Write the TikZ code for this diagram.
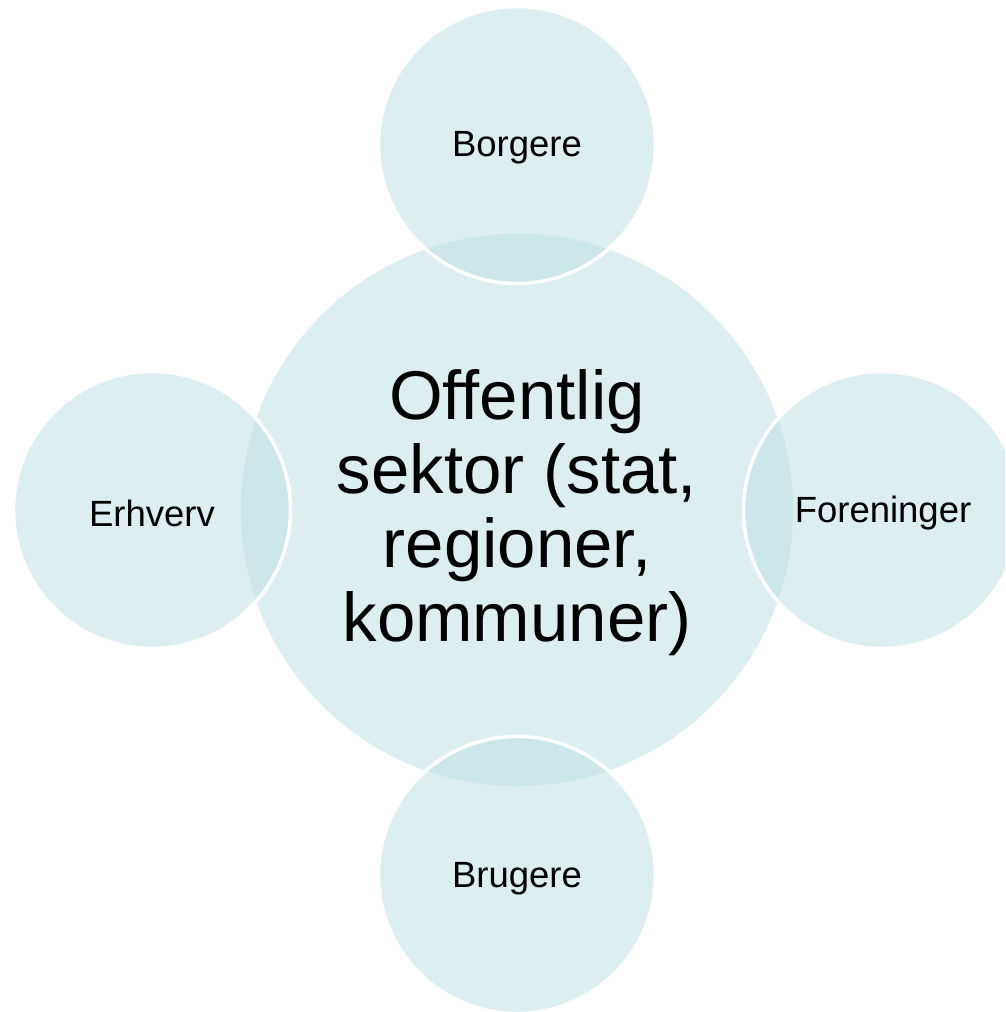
\documentclass[tikz,border=0pt]{standalone}
\usepackage{fontspec}
\setmainfont{Liberation Sans}
\definecolor{bubblefill}{RGB}{187,222,226}
\begin{document}
\begin{tikzpicture}[x=1pt,y=-1pt,
  bubble/.style={circle, inner sep=0pt, fill=bubblefill, fill opacity=0.5,
    draw=white, draw opacity=1, line width=3.5pt},
  smalltxt/.style={font=\fontsize{36.5}{42}\selectfont, text=black, inner sep=0pt},
  bigtxt/.style={font=\fontsize{69}{74}\selectfont, text=black, align=center, inner sep=0pt}]
\useasboundingbox (0,0) rectangle (1005,1012);
\clip (0,0) rectangle (1005,1012);
\node[bubble, minimum size=556pt] (center) at (517,510) {};
\node[bubble, minimum size=277pt] (top) at (517,145) {};
\node[bubble, minimum size=277pt] (left) at (152,510) {};
\node[bubble, minimum size=277pt] (right) at (882,510) {};
\node[bubble, minimum size=277pt] (bottom) at (517,875) {};
\node[bigtxt] (centertxt) at (517,513) {Offentlig\\sektor (stat,\\regioner,\\kommuner)};
\node[smalltxt] (toptxt) at (517,148) {Borgere};
\node[smalltxt] (lefttxt) at (152,513) {Erhverv};
\node[smalltxt] (righttxt) at (883,513) {Foreninger};
\node[smalltxt] (bottomtxt) at (517,879) {Brugere};
\end{tikzpicture}
\end{document}
